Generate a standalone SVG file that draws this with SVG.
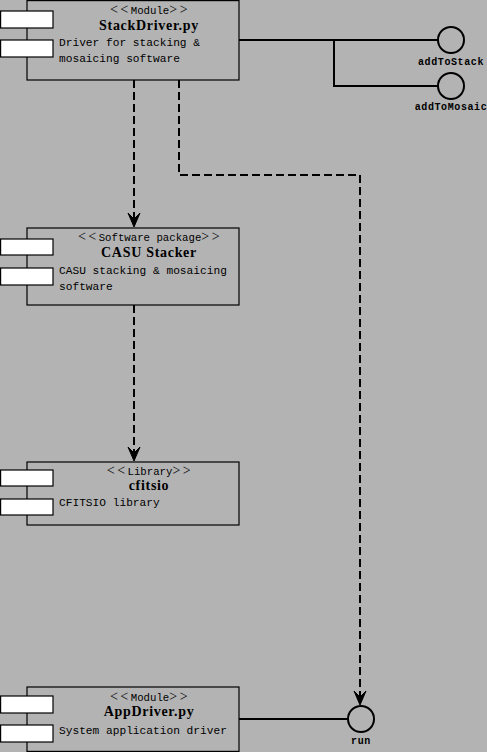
<svg xmlns="http://www.w3.org/2000/svg" width="487" height="752" viewBox="0 0 487 752">
<defs>
<style>
.box{fill:#b3b3b3;stroke:#000;stroke-width:1.2}
.port{fill:#fff;stroke:#000;stroke-width:1.2}
.st{font-family:"Liberation Mono",monospace;font-size:10.7px;text-anchor:middle}
.lt{font-family:"Liberation Serif",serif;font-size:14px;letter-spacing:2.5px}
.ti{font-family:"Liberation Serif",serif;font-size:14px;font-weight:bold;text-anchor:middle;letter-spacing:0.7px}
.de{font-family:"Liberation Mono",monospace;font-size:11.2px}
.lbl{font-family:"Liberation Mono",monospace;font-size:10px;font-weight:bold;text-anchor:middle;letter-spacing:0.6px}
.solid{fill:none;stroke:#000;stroke-width:2}
.dash{fill:none;stroke:#000;stroke-width:2;stroke-dasharray:8 4}
.iface{fill:#b3b3b3;stroke:#000;stroke-width:2}
.head{fill:#000;stroke:#000;stroke-width:1}
</style>
</defs>
<rect x="0" y="0" width="487" height="752" fill="#b3b3b3"/>

<g id="connectors">
<path class="solid" d="M239,40 H438"/>
<path class="solid" d="M334,40 V86 H438"/>
<path class="solid" d="M239,719 H348"/>
<path class="dash" d="M134,80 V220"/>
<path class="head" d="M134,227 L128,213 L134,219 L140,213 Z"/>
<path class="dash" d="M134,305 V454"/>
<path class="head" d="M134,461 L128,447 L134,453 L140,447 Z"/>
<path class="dash" d="M179,80 V175 H360 V698"/>
<path class="head" d="M360,705 L354,691 L360,697 L366,691 Z"/>
</g>

<g id="addToStack">
<circle class="iface" cx="451" cy="40" r="13"/>
<text class="lbl" x="451" y="65">addToStack</text>
</g>
<g id="addToMosaic">
<circle class="iface" cx="451" cy="86" r="13"/>
<text class="lbl" x="451" y="110">addToMosaic</text>
</g>
<g id="run">
<circle class="iface" cx="361" cy="719" r="13"/>
<text class="lbl" x="361" y="744">run</text>
</g>

<g id="StackDriver">
<rect class="box" x="27" y="0.6" width="212" height="79.4"/>
<rect class="port" x="0.6" y="11" width="52.4" height="17"/>
<rect class="port" x="0.6" y="40" width="52.4" height="17"/>
<text class="st" x="150" y="14"><tspan class="lt">&lt;&lt;</tspan>Module<tspan class="lt">&gt;&gt;</tspan></text>
<text class="ti" x="149" y="30">StackDriver.py</text>
<text class="de" x="59" y="46">Driver for stacking &amp;</text>
<text class="de" x="59" y="62">mosaicing software</text>
</g>

<g id="CASUStacker">
<rect class="box" x="27" y="228" width="212" height="77"/>
<rect class="port" x="0.6" y="239" width="52.4" height="16"/>
<rect class="port" x="0.6" y="268" width="52.4" height="17"/>
<text class="st" x="150" y="241"><tspan class="lt">&lt;&lt;</tspan>Software package<tspan class="lt">&gt;&gt;</tspan></text>
<text class="ti" x="149" y="257">CASU Stacker</text>
<text class="de" x="59" y="274">CASU stacking &amp; mosaicing</text>
<text class="de" x="59" y="290">software</text>
</g>

<g id="cfitsio">
<rect class="box" x="27" y="462" width="212" height="63"/>
<rect class="port" x="0.6" y="470" width="52.4" height="16"/>
<rect class="port" x="0.6" y="499" width="52.4" height="16"/>
<text class="st" x="150" y="475"><tspan class="lt">&lt;&lt;</tspan>Library<tspan class="lt">&gt;&gt;</tspan></text>
<text class="ti" x="149" y="490">cfitsio</text>
<text class="de" x="59" y="506">CFITSIO library</text>
</g>

<g id="AppDriver">
<rect class="box" x="27" y="687" width="212" height="64.4"/>
<rect class="port" x="0.6" y="696" width="52.4" height="17"/>
<rect class="port" x="0.6" y="725" width="52.4" height="17"/>
<text class="st" x="150" y="701"><tspan class="lt">&lt;&lt;</tspan>Module<tspan class="lt">&gt;&gt;</tspan></text>
<text class="ti" x="149" y="716">AppDriver.py</text>
<text class="de" x="59" y="734">System application driver</text>
</g>
</svg>
